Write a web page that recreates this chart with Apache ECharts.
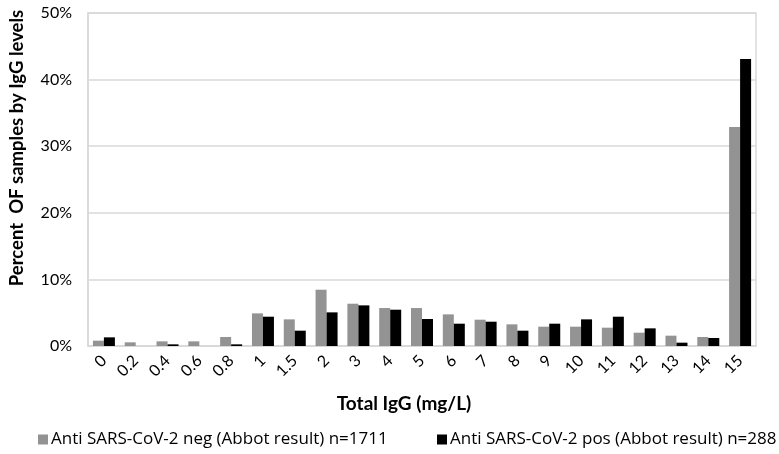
<!DOCTYPE html>
<html><head><meta charset="utf-8">
<script src="https://cdn.jsdelivr.net/npm/echarts@6/dist/echarts.min.js"></script>
<style>html,body{margin:0;padding:0;background:#fff}#c{width:779px;height:454px}</style>
</head><body><div id="c"></div>
<script>
var categories = ['0','0.2','0.4','0.6','0.8','1','1.5','2','3','4','5','6','7','8','9','10','11','12','13','14','15'];
var negValues = [0.8,0.55,0.7,0.7,1.35,4.9,4.0,8.45,6.35,5.7,5.7,4.75,3.95,3.25,2.9,2.9,2.75,2.0,1.55,1.35,32.9];
var posValues = [1.3,0,0.25,0,0.25,4.4,2.3,5.05,6.1,5.45,4.05,3.35,3.65,2.3,3.35,4.0,4.4,2.65,0.5,1.2,43.1];
var negName = 'Anti SARS-CoV-2 neg (Abbot result) n=1711';
var posName = 'Anti SARS-CoV-2 pos (Abbot result) n=288';
var yTicks = [0,10,20,30,40,50];

var FONT = 'Lato';
var LFONT = 'Open Sans';
var chart = echarts.init(document.getElementById('c'));
chart.setOption({
  animation: false,
  textStyle: {fontFamily: FONT},
  grid: {left: 88, right: 23, top: 13, bottom: 108, show: true, borderColor: '#d9d9d9', borderWidth: 1.5},
  legend: [
    {data: [negName], left: 38, top: 431, padding: 0, itemWidth: 10, itemHeight: 10, icon: 'rect', itemGap: 4,
     textStyle: {fontFamily: LFONT, fontSize: 17, color: '#000', padding: [0,0,0,-2]}},
    {data: [posName], left: 437, top: 431, padding: 0, itemWidth: 10, itemHeight: 10, icon: 'rect',
     textStyle: {fontFamily: LFONT, fontSize: 17, color: '#000', padding: [0,0,0,-2]}}
  ],
  xAxis: {
    type: 'category', data: categories,
    axisLine: {lineStyle: {color: '#d9d9d9', width: 1.5}},
    axisTick: {show: false},
    axisLabel: {rotate: 45, interval: 0, fontSize: 16, color: '#000', margin: 12, fontFamily: FONT}
  },
  yAxis: {
    type: 'value', min: yTicks[0], max: yTicks[yTicks.length-1], interval: 10,
    axisLine: {show: true, lineStyle: {color: '#d9d9d9', width: 1.5}},
    axisTick: {show: false},
    splitLine: {lineStyle: {color: '#d9d9d9', width: 1.5}},
    axisLabel: {formatter: '{value}%', fontSize: 16, color: '#000', margin: 16, fontFamily: FONT}
  },
  graphic: [
    {type: 'text', x: 404, y: 394,
     style: {text: 'Total IgG (mg/L)', font: 'bold 19px ' + FONT, fill: '#000', align: 'center', verticalAlign: 'top'}},
    {type: 'text', x: 8, y: 148, rotation: Math.PI/2, origin: [0,0],
     style: {text: 'Percent  OF samples by IgG levels', font: 'bold 18.5px ' + FONT, fill: '#000', align: 'center', verticalAlign: 'top'}}
  ],
  series: [
    {name: negName, type: 'bar', data: negValues, barWidth: 11, barGap: '0%', itemStyle: {color: '#939393'}},
    {name: posName, type: 'bar', data: posValues, barWidth: 11, barGap: '0%', itemStyle: {color: '#000'}}
  ]
});
</script></body></html>
